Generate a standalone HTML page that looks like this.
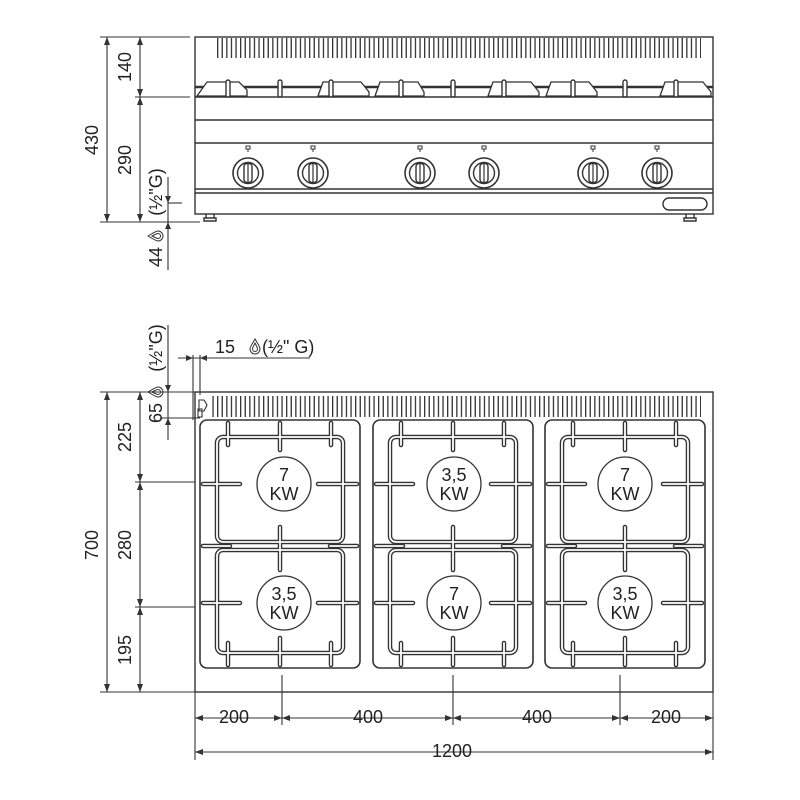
<!DOCTYPE html>
<html><head><meta charset="utf-8"><style>
html,body{margin:0;padding:0;background:#fff}
svg{display:block}
text{font-family:"Liberation Sans","DejaVu Sans",sans-serif;fill:#222}
</style></head><body>
<svg width="800" height="800" viewBox="0 0 800 800" xmlns="http://www.w3.org/2000/svg">
<defs>
<pattern id="vent" x="217" y="0" width="4.6" height="10" patternUnits="userSpaceOnUse">
<rect x="0" y="0" width="1.3" height="10" fill="#333"/>
</pattern>
<g id="drop"><path d="M0,-7 C3,-2 5,1 5,3 A5,5 0 0 1 -5,3 C-5,1 -3,-2 0,-7z M0,-3 C1.5,0 2.5,2 2.5,3 A2.5,2.5 0 0 1 -2.5,3 C-2.5,2 -1.5,0 0,-3z" fill="none" stroke="#333" stroke-width="1"/></g>
<g id="knob">
<circle r="15" fill="none" stroke="#333" stroke-width="1.6"/>
<circle r="10.5" fill="none" stroke="#333" stroke-width="1.4"/>
<rect x="-4" y="-9.5" width="8" height="19" rx="3" fill="none" stroke="#333" stroke-width="1.4"/>
<line x1="0" y1="-9" x2="0" y2="9" stroke="#333" stroke-width="1.2"/>
<path d="M-2,-27 h4 v3 h-4z M0,-24 v3" fill="none" stroke="#333" stroke-width="1"/>
</g>
<g id="panel" fill="none" stroke-linecap="round">
<rect x="0" y="0" width="160" height="248" rx="7" stroke="#333" stroke-width="1.6"/>
<g stroke="#333" stroke-width="4.5">
<rect x="17" y="17" width="126" height="105" rx="6"/>
<rect x="17" y="130" width="126" height="103" rx="6"/>
<path d="M28,3 V25 M80,3 V30 M131,3 V25 M28,245 V223 M80,245 V218 M131,245 V223 M80,107 V150 M3,64 H40 M118,64 H157 M3,183 H40 M118,183 H157 M3,126 H30 M130,126 H157"/>
</g>
<g stroke="#fff" stroke-width="1.8">
<rect x="17" y="17" width="126" height="105" rx="6"/>
<rect x="17" y="130" width="126" height="103" rx="6"/>
<path d="M28,3 V25 M80,3 V30 M131,3 V25 M28,245 V223 M80,245 V218 M131,245 V223 M80,107 V150 M3,64 H40 M118,64 H157 M3,183 H40 M118,183 H157 M3,126 H30 M130,126 H157"/>
</g>
</g>
</defs>

<g fill="none" stroke="#333" stroke-width="1.4">
<rect x="195" y="37" width="518" height="177"/>
<line x1="195" y1="97" x2="713" y2="97"/>
<line x1="195" y1="120" x2="713" y2="120"/>
<line x1="195" y1="143" x2="713" y2="143"/>
<line x1="195" y1="189" x2="713" y2="189"/>
<line x1="195" y1="193" x2="713" y2="193"/>
<line x1="195" y1="87" x2="713" y2="87" stroke-width="2.4"/>
<rect x="663" y="198" width="44" height="12" rx="6"/>
<path d="M206,214 v4 h8 v-4 M204,221 h12 v-3 h-12z"/>
<path d="M686,214 v4 h8 v-4 M684,221 h12 v-3 h-12z"/>
</g>
<rect x="217" y="38" width="484" height="20" fill="url(#vent)"/>
<g fill="#fff" stroke="#333" stroke-width="1.3">
<path d="M197,96 l10,-14 h32 l8,8 v6z"/>
<path d="M318,96 l5,-14 h38 l8,10 v4z"/>
<path d="M375,96 l5,-14 h38 l6,10 v4z"/>
<path d="M488,96 l5,-14 h38 l8,10 v4z"/>
<path d="M546,96 l5,-14 h38 l8,10 v4z"/>
<path d="M660,96 l5,-14 h38 l8,10 v4z"/>
</g>
<g stroke="#333" stroke-width="1.4" fill="#fff">
<rect x="226" y="80" width="4" height="17" rx="2"/><rect x="278" y="80" width="4" height="17" rx="2"/>
<rect x="329" y="80" width="4" height="17" rx="2"/><rect x="399" y="80" width="4" height="17" rx="2"/>
<rect x="451" y="80" width="4" height="17" rx="2"/><rect x="502" y="80" width="4" height="17" rx="2"/>
<rect x="571" y="80" width="4" height="17" rx="2"/><rect x="623" y="80" width="4" height="17" rx="2"/>
<rect x="674" y="80" width="4" height="17" rx="2"/>
</g>
<use href="#knob" x="248" y="173"/><use href="#knob" x="313" y="173"/>
<use href="#knob" x="420" y="173"/><use href="#knob" x="484" y="173"/>
<use href="#knob" x="593" y="173"/><use href="#knob" x="657" y="173"/>

<g stroke="#333" stroke-width="1.1" fill="none">
<line x1="100" y1="37" x2="190" y2="37"/>
<line x1="100" y1="222" x2="200" y2="222"/>
<line x1="135" y1="97" x2="190" y2="97"/>
<line x1="107" y1="37" x2="107" y2="222"/>
<line x1="140" y1="37" x2="140" y2="222"/>
<line x1="168" y1="177" x2="168" y2="270"/>
<line x1="168" y1="203" x2="182" y2="203"/>
</g>
<g fill="#333">
<path d="M107,37 l-3,8 h6z M107,222 l-3,-8 h6z M140,37 l-3,8 h6z M140,97 l-3,-8 h6z M140,97 l-3,8 h6z M140,222 l-3,-8 h6z M168,203 l-3,-7 h6z M168,222 l-3,7 h6z"/>
</g>
<text transform="translate(98,140) rotate(-90)" font-size="18" text-anchor="middle">430</text>
<text transform="translate(131,67) rotate(-90)" font-size="18" text-anchor="middle">140</text>
<text transform="translate(131,160) rotate(-90)" font-size="18" text-anchor="middle">290</text>
<text transform="translate(162,192) rotate(-90)" font-size="18" text-anchor="middle">(½ʺG)</text>
<use href="#drop" transform="translate(155,236) rotate(-90)"/>
<text transform="translate(162,257) rotate(-90)" font-size="18" text-anchor="middle">44</text>

<g fill="none" stroke="#333" stroke-width="1.4">
<rect x="195" y="392" width="518" height="300"/>
</g>
<rect x="212" y="396" width="489" height="21" fill="url(#vent)"/>
<use href="#panel" x="200" y="420"/>
<use href="#panel" x="373" y="420"/>
<use href="#panel" x="545" y="420"/>
<g fill="#fff" stroke="#333" stroke-width="1.3">
<circle cx="284" cy="484" r="27"/><circle cx="284" cy="603" r="27"/>
<circle cx="454" cy="484" r="27"/><circle cx="454" cy="603" r="27"/>
<circle cx="625" cy="484" r="27"/><circle cx="625" cy="603" r="27"/>
</g>
<g font-size="18" text-anchor="middle">
<text x="284" y="481">7</text><text x="284" y="500">KW</text>
<text x="284" y="600">3,5</text><text x="284" y="619">KW</text>
<text x="454" y="481">3,5</text><text x="454" y="500">KW</text>
<text x="454" y="600">7</text><text x="454" y="619">KW</text>
<text x="625" y="481">7</text><text x="625" y="500">KW</text>
<text x="625" y="600">3,5</text><text x="625" y="619">KW</text>
</g>

<g stroke="#333" stroke-width="1.1" fill="none">
<line x1="100" y1="392" x2="195" y2="392"/>
<line x1="100" y1="692" x2="195" y2="692"/>
<line x1="107" y1="392" x2="107" y2="692"/>
<line x1="140" y1="392" x2="140" y2="692"/>
<line x1="135" y1="482" x2="195" y2="482"/>
<line x1="135" y1="607" x2="195" y2="607"/>
<line x1="168" y1="325" x2="168" y2="440"/>
<line x1="160" y1="418" x2="200" y2="418"/>
<line x1="178" y1="358" x2="310" y2="358"/>
<line x1="193" y1="355" x2="193" y2="420"/>
<line x1="200" y1="355" x2="200" y2="395"/>
<path d="M199,400 h5 l3,5 l-3,6 h-5z"/>
<rect x="198" y="409" width="4" height="8"/>
<line x1="195" y1="692" x2="195" y2="760"/>
<line x1="713" y1="692" x2="713" y2="760"/>
<line x1="282" y1="675" x2="282" y2="725"/>
<line x1="453" y1="675" x2="453" y2="725"/>
<line x1="620" y1="675" x2="620" y2="725"/>
<line x1="195" y1="718" x2="713" y2="718"/>
<line x1="195" y1="752" x2="713" y2="752"/>
</g>
<g fill="#333">
<path d="M107,392 l-3,8 h6z M107,692 l-3,-8 h6z M140,392 l-3,8 h6z M140,482 l-3,-8 h6z M140,482 l-3,8 h6z M140,607 l-3,-8 h6z M140,607 l-3,8 h6z M140,692 l-3,-8 h6z
M168,392 l-3,-7 h6z M168,418 l-3,7 h6z M193,358 l-7,-3 v6z M200,358 l7,-3 v6z
M195,718 l8,-3 v6z M282,718 l-8,-3 v6z M282,718 l8,-3 v6z M453,718 l-8,-3 v6z M453,718 l8,-3 v6z M620,718 l-8,-3 v6z M620,718 l8,-3 v6z M713,718 l-8,-3 v6z
M195,752 l8,-3 v6z M713,752 l-8,-3 v6z"/>
</g>
<text transform="translate(98,545) rotate(-90)" font-size="18" text-anchor="middle">700</text>
<text transform="translate(131,437) rotate(-90)" font-size="18" text-anchor="middle">225</text>
<text transform="translate(131,545) rotate(-90)" font-size="18" text-anchor="middle">280</text>
<text transform="translate(131,650) rotate(-90)" font-size="18" text-anchor="middle">195</text>
<text transform="translate(162,348) rotate(-90)" font-size="18" text-anchor="middle">(½ʺG)</text>
<use href="#drop" transform="translate(155,392) rotate(-90)"/>
<text transform="translate(162,413) rotate(-90)" font-size="18" text-anchor="middle">65</text>
<text x="215" y="353" font-size="18">15</text>
<use href="#drop" x="255" y="346"/>
<text x="262" y="353" font-size="18">(½ʺ G)</text>
<g font-size="18" text-anchor="middle">
<text x="234" y="723">200</text>
<text x="368" y="723">400</text>
<text x="537" y="723">400</text>
<text x="666" y="723">200</text>
<text x="452" y="757">1200</text>
</g>
</svg>
</body></html>
